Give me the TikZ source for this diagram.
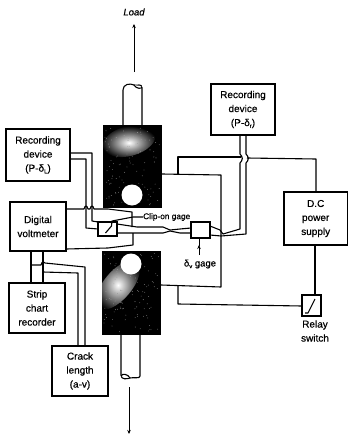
\documentclass[tikz,border=0pt]{standalone}
\usepackage{fontspec}
\setmainfont{Liberation Sans}[BoldFont={Liberation Sans},BoldFeatures={FakeBold=0.5},BoldItalicFont={Liberation Sans Italic},BoldItalicFeatures={FakeBold=0.5}]
\usetikzlibrary{arrows.meta,calc}
\newcommand{\subsc}[1]{\raisebox{-0.35ex}{\fontsize{6}{6}\selectfont #1}}
\tikzset{
  box/.style={draw=black,line width=1.1pt,fill=white,outer sep=0pt,inner sep=0pt,align=center,font=\fontsize{10}{14}\selectfont\bfseries},
  lbl/.style={inner sep=0pt,align=center,font=\fontsize{10}{14}\selectfont\bfseries},
  wire/.style={draw=black,line width=1.1pt,line join=round},
  thinarrow/.style={draw=black,line width=0.7pt,-{Stealth[length=4pt,width=3.5pt]}},
  grip/.style={fill=black,draw=none},
  rod/.style={draw=black,line width=1.1pt,fill=white},
  blotch/.style={draw=none,shading=radial,inner color=white,outer color=black}
}
\begin{document}
\begin{tikzpicture}[x=1pt,y=-1pt]
\useasboundingbox[fill=white] (0,0) rectangle (348,434);
% rods
\draw[rod] (123,125) -- (123,90) .. controls (123,84) and (130,83) .. (134,85) .. controls (137,86) and (142,83) .. (142,88) -- (142,125);
\draw[rod] (134,85) .. controls (136,89) and (142,89) .. (142,87);
\draw[rod] (121,335) -- (121,375) .. controls (121,380) and (127,379) .. (130,378) .. controls (134,377) and (140,379) .. (140,376) -- (140,335);
\draw[rod] (121,376) .. controls (122,373) and (128,374) .. (130,378);
% grips
\node[grip,minimum width=59pt,minimum height=83pt,inner sep=0pt,outer sep=0pt] (gripU) at (132.5,166.5) {};
\node[grip,minimum width=59pt,minimum height=84pt,inner sep=0pt,outer sep=0pt] (gripL) at (131.5,293) {};
\begin{scope}
\clip (103,125) rectangle (162,208);
\shade[blotch,rotate around={15:(129,141)}] (129,141) ellipse (27 and 15);
\pgfmathsetseed{7}
\foreach \i in {1,...,110}{\pgfmathsetmacro{\a}{105+55*rnd}\pgfmathsetmacro{\b}{127+78*rnd}\fill[white!60!black] (\a,\b) circle (0.4);}
\end{scope}
\begin{scope}
\clip (102,251) rectangle (161,335);
\shade[blotch,rotate around={50:(118,285)}] (118,285) ellipse (30 and 14);
\pgfmathsetseed{11}
\foreach \i in {1,...,110}{\pgfmathsetmacro{\a}{104+55*rnd}\pgfmathsetmacro{\b}{253+80*rnd}\fill[white!60!black] (\a,\b) circle (0.4);}
\end{scope}
\fill[white] (132,195) circle (10.5);
\fill[white] (131,264) circle (10.5);
% boxes
\node[box,minimum width=64pt,minimum height=52pt] (recL) at (38,155) {Recording\\device\\(P-δ\subsc{L})};
\node[box,minimum width=56pt,minimum height=49pt] (volt) at (38,226.5) {Digital\\voltmeter};
\node[box,minimum width=56pt,minimum height=50pt] (strip) at (37,308) {Strip\\chart\\recorder};
\node[box,minimum width=56pt,minimum height=50pt] (crack) at (80,371) {Crack\\length\\(a-v)};
\node[box,minimum width=64pt,minimum height=51pt] (recR) at (243,109.5) {Recording\\device\\(P-δ\subsc{r})};
\node[box,minimum width=63.5pt,minimum height=53pt] (dc) at (315.7,218.5) {D.C\\power\\supply};
\node[box,minimum width=19pt,minimum height=21pt] (relay) at (311.5,305.5) {};
\node[box,minimum width=19pt,minimum height=14pt] (clip) at (107.5,229) {};
\node[box,minimum width=19pt,minimum height=16pt] (dv) at (200.5,230) {};
% labels
\node[lbl,font=\fontsize{9.5}{11}\selectfont\itshape\bfseries] (load) at (134,12) {Load};
\node[lbl,anchor=west,font=\fontsize{8.3}{10}\selectfont\bfseries] (cliplbl) at (143,217) {Clip-on gage};
\node[lbl,font=\fontsize{9.5}{11}\selectfont\bfseries] (dvlbl) at (200,264) {δ\subsc{v} gage};
\node[lbl] (relaylbl) at (315,331) {Relay\\switch};
% load arrows
\coordinate (loadA) at (134,72); \coordinate (loadB) at (134,24);
\coordinate (lowA) at (129,387); \coordinate (lowB) at (129,434);
\draw[thinarrow] (loadA) -- (loadB);
\draw[thinarrow] (lowA) -- (lowB);
% gauge symbols
\draw[wire] (clip.south) ++(-2,-3) -- ++(6,-7) -- (112,221) -- (133,217) -- (cliplbl.west);
\draw[wire] (relay.south west) ++(3,-3) -- ++(3,0) -- ++(7,-14);
\draw[thinarrow] (199,255) -- (199,245);
\draw[draw=black,line width=0.7pt] (199,246) -- (dv.south -| 199,0);
% left recorder to clip
\draw[wire] (recL.east |- 0,153) -- (92,153) -- (92,221) -- (clip.north west);
\draw[wire] (recL.east |- 0,159) -- (86,159) -- (86,228) -- (clip.west);
% voltmeter to clip-gauge region
\draw[wire] (volt.east |- 0,209) -- (84,209) .. controls (85,205) and (87,205) .. (88,209) -- (90,209) .. controls (91,205) and (93,205) .. (94,209) -- (108,209) -- (132,212) -- (132,227);
\draw[wire] (volt.east |- 0,249) -- (108,248) -- (133,245) -- (133,233);
% clip to dv
\draw[wire] (clip.north east |- 0,224) -- (137,227) -- (163,227) -- (170,230) -- (180,229) -- (dv.west |- 0,228);
\draw[wire] (clip.east |- 0,233) -- (133,233) -- (163,233) -- (170,231) -- (180,233) -- (dv.west |- 0,233);
% dv to right recorder
\draw[wire] (dv.east |- 0,226) -- (220,230) -- (223,234) -- (240,229) -- (240,163) .. controls (243,160) and (243,157) .. (240,154) -- (recR.south -| 240,0);
\draw[wire] (dv.east |- 0,235) -- (221,236) -- (246,234) -- (246,163) .. controls (249,160) and (249,157) .. (246,154) -- (recR.south -| 246,0);
% power circuit
\draw[wire] (gripU.east |- 0,174) -- (221,175) -- (221,287) -- (gripL.east |- 0,285);
\draw[wire] (178,174) -- (178,157) -- (241,157);
\draw[wire] (247,158) -- (316,159) -- (dc.north -| 316,0);
\draw[wire] (178,286) -- (178,304) -- (relay.west |- 0,306);
\draw[wire] (dc.south -| 315,0) -- (relay.north -| 315,0);
% voltmeter to strip and crack
\draw[wire] (volt.south -| 31,0) -- (strip.north -| 31,0);
\draw[wire] (volt.south -| 43,0) -- (strip.north -| 43,0);
\draw[wire] (31,265) -- (41,265) .. controls (42,261) and (44,261) .. (45,263) -- (85,267) -- (crack.north -| 85,0);
\draw[wire] (43,272) -- (78,273) -- (crack.north -| 78,0);
\end{tikzpicture}
\end{document}
